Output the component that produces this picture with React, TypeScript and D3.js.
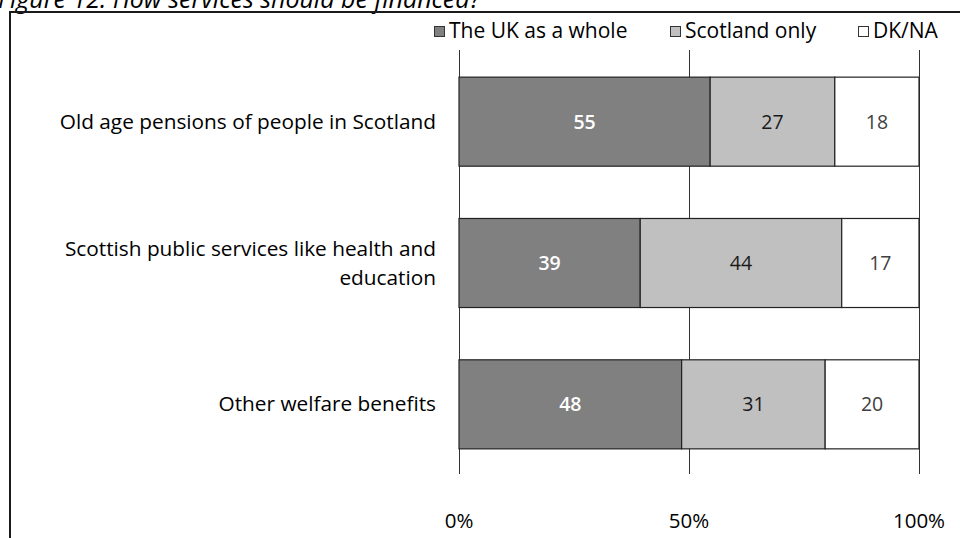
import React from "react";
import * as d3 from "d3";

const categories: string[][] = [
  ["Old age pensions of people in Scotland"],
  ["Scottish public services like health and", "education"],
  ["Other welfare benefits"],
];
const seriesNames = ["The UK as a whole", "Scotland only", "DK/NA"];
const ukWhole = [54.6, 39.4, 48.4];
const scotlandOnly = [27.1, 43.8, 31.2];
const dkna = [18.3, 16.8, 20.4];
const tickValues = [0, 50, 100];
const tickLabels = ["0%", "50%", "100%"];
const titleText = "Figure 12: How services should be financed?";

const fills = ["#808080", "#c0c0c0", "#ffffff"];
const labelColors = ["#ffffff", "#1a1a1a", "#404040"];

const FONT = "'Open Sans', 'DejaVu Sans', sans-serif";

export default function App() {
  const W = 960, H = 538;
  const x = d3.scaleLinear().domain([0, 100]).range([459, 919]);
  const y = d3.scaleBand<number>().domain([0, 1, 2]).range([51, 475]).paddingInner(0.37).paddingOuter(0.185);
  const series = [ukWhole, scotlandOnly, dkna];
  const table = categories.map((_, i) => ({ i, a: ukWhole[i], b: scotlandOnly[i], c: dkna[i] }));
  const stack = d3.stack<any>().keys(["a", "b", "c"])(table);
  const legendX = [434, 670, 858];

  return (
    <svg width={W} height={H} style={{ position: "absolute", left: 0, top: 0, background: "#fff" }}>
      <rect x={0} y={0} width={W} height={H} fill="#fff" />
      <text x={-2} y={8} fontFamily={FONT} fontStyle="italic" fontSize={25} fill="#000">{titleText}</text>
      <rect x={10} y={12} width={W + 20} height={H + 20} fill="none" stroke="#1a1a1a" strokeWidth={2} />
      {/* legend */}
      {seriesNames.map((n, k) => (
        <g key={n}>
          <rect x={legendX[k] + 0.5} y={26.5} width={10} height={10} fill={fills[k]} stroke="#333" strokeWidth={1} />
          <text x={legendX[k] + 15} y={38} fontFamily={FONT} fontSize={21} fill="#000">{n}</text>
        </g>
      ))}
      {/* gridlines */}
      {tickValues.map((t) => (
        <line key={t} x1={Math.round(x(t)) + 0.5} x2={Math.round(x(t)) + 0.5} y1={50} y2={474} stroke="#333" strokeWidth={1} />
      ))}
      {/* bars */}
      {stack.map((s, k) => (
        <g key={k}>
          {s.map((d, i) => {
            const x0 = x(d[0]), x1 = x(d[1]);
            const yy = y(i)!;
            return (
              <g key={i}>
                <rect x={x0} y={yy} width={x1 - x0} height={y.bandwidth()} fill={fills[k]} stroke="#222" strokeWidth={1.2} />
                <text x={(x0 + x1) / 2} y={yy + y.bandwidth() / 2 + 7} textAnchor="middle" fontFamily={FONT} fontSize={19.5} fontWeight={k === 0 ? 600 : 400} fill={labelColors[k]}>
                  {Math.round(series[k][i])}
                </text>
              </g>
            );
          })}
        </g>
      ))}
      {/* category labels */}
      {categories.map((lines, i) => {
        const cy = y(i)! + y.bandwidth() / 2;
        const lh = 29;
        const start = cy - ((lines.length - 1) * lh) / 2 + 7;
        return lines.map((ln, j) => (
          <text key={i + "-" + j} x={436} y={start + j * lh} textAnchor="end" fontFamily={FONT} fontSize={20.8} fill="#000">{ln}</text>
        ));
      })}
      {/* tick labels */}
      {tickValues.map((t, k) => (
        <text key={t} x={x(t)} y={528} textAnchor="middle" fontFamily={FONT} fontSize={20.5} fill="#000">{tickLabels[k]}</text>
      ))}
    </svg>
  );
}
